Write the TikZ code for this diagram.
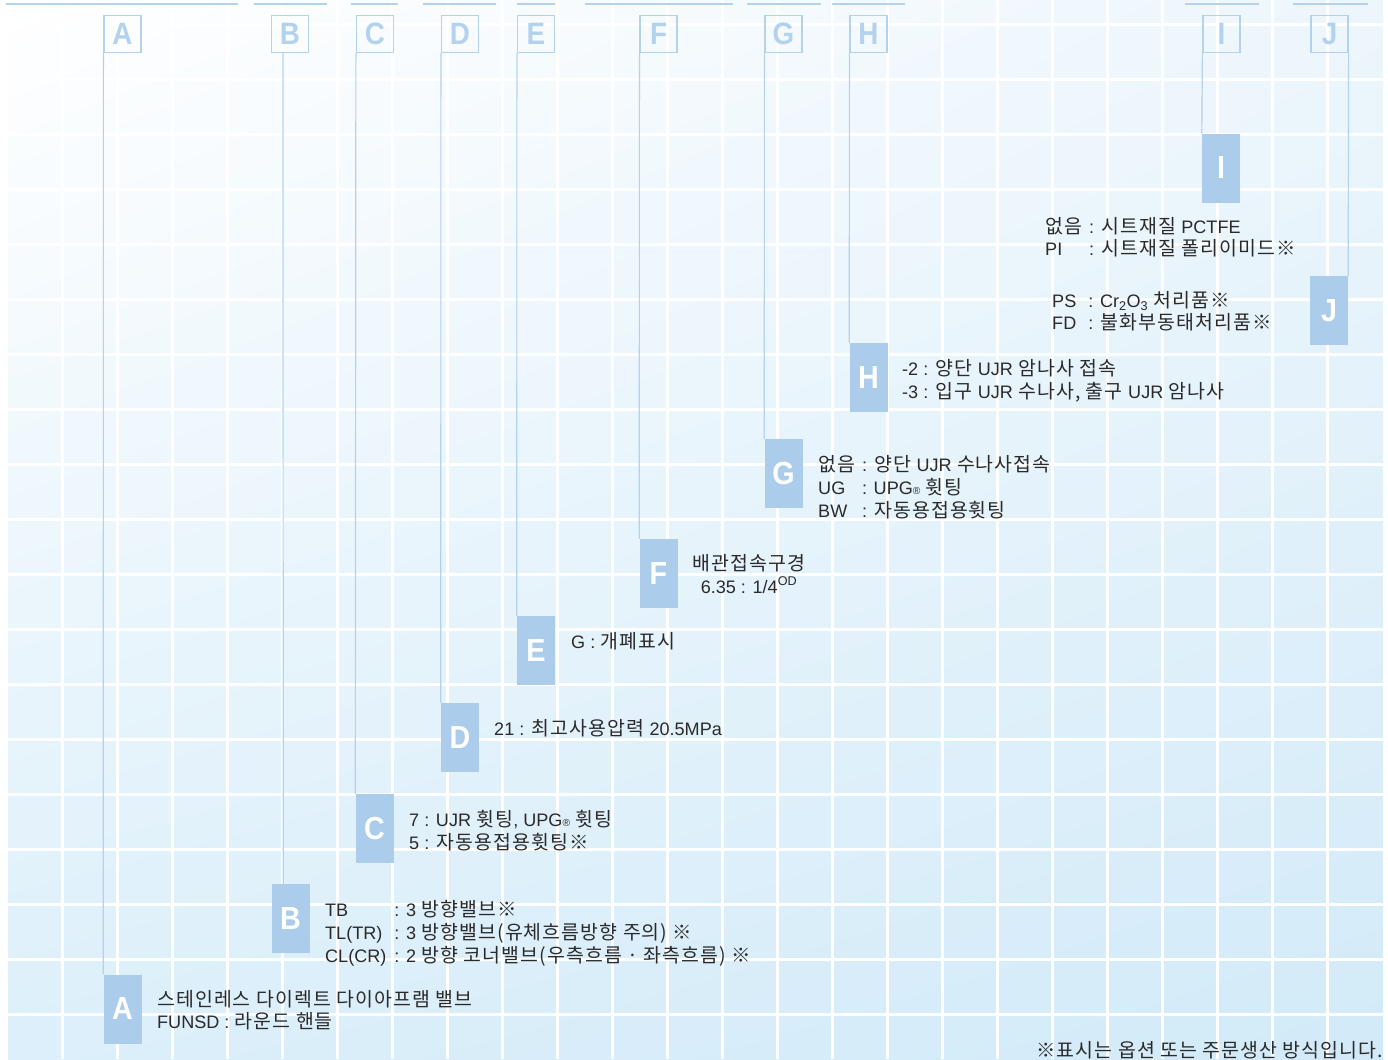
\documentclass[tikz,border=0pt]{standalone}
\usepackage{fontspec}
\usepackage{tikz}
\usetikzlibrary{positioning, shadings}
\newfontfamily\krfont[LetterSpace=5.5]{Noto Sans CJK KR}
\newfontfamily\latinfont[Scale=0.93]{Liberation Sans}
\newfontfamily\letterfont[FakeStretch=0.9]{Liberation Sans}
\newcommand\en[1]{{\latinfont #1}}
\newcommand\regmark{{\latinfont\fontsize{11}{11}\selectfont ®}}
\definecolor{keyblue}{HTML}{ABCDEB}
\definecolor{lineblue}{HTML}{B3D2EE}
\definecolor{textgray}{HTML}{2A2A2A}
\definecolor{paneltr}{HTML}{EDF6FC}
\definecolor{panelbl}{HTML}{DCEFFA}
\definecolor{panelbr}{HTML}{D2EAF8}

\begin{document}
\begin{tikzpicture}[x=1bp, y=-1bp,
    keybox/.style={rectangle, fill=keyblue, minimum width=38bp, minimum height=69bp, inner sep=0pt, text=white, font=\letterfont\bfseries\fontsize{32}{32}\selectfont},
    headbox/.style={rectangle, draw=lineblue, line width=1.2bp, minimum width=37bp, minimum height=37bp, inner sep=0pt, text=lineblue, font=\letterfont\bfseries\fontsize{31}{31}\selectfont},
    desc/.style={anchor=base west, inner sep=0pt, text=textgray, font=\krfont\fontsize{19.5}{23}\selectfont},
    leader/.style={draw=lineblue, line width=1.2bp},
    topline/.style={draw=lineblue, line width=2bp},
    tileline/.style={draw=white, line width=3bp}
]
    \useasboundingbox (0,0) rectangle (1388,1059);

    % Background panel with tile grid
    \shade[upper left=white, upper right=paneltr, lower left=panelbl, lower right=panelbr] (8,0) rectangle (1383,1059);
    \foreach \gx in {62,117,...,1327}
        \draw[tileline] (\gx,0) -- (\gx,1059);
    \foreach \gy in {24,79,...,1014}
        \draw[tileline] (8,\gy) -- (1383,\gy);

    % Header rules
    \draw[topline] (6,4) -- (238,4);
    \draw[topline] (254,4) -- (327,4);
    \draw[topline] (351,4) -- (398,4);
    \draw[topline] (423,4) -- (496,4);
    \draw[topline] (517,4) -- (555,4);
    \draw[topline] (585,4) -- (733,4);
    \draw[topline] (747,4) -- (821,4);
    \draw[topline] (832,4) -- (905,4);
    \draw[topline] (1185,4) -- (1259,4);
    \draw[topline] (1293,4) -- (1368,4);

    % Header letters
    \node[headbox] (headA) at (122.5,34) {A};
    \node[headbox] (headB) at (290,34) {B};
    \node[headbox] (headC) at (375,34) {C};
    \node[headbox] (headD) at (460,34) {D};
    \node[headbox] (headE) at (536,34) {E};
    \node[headbox] (headF) at (658.5,34) {F};
    \node[headbox] (headG) at (783.5,34) {G};
    \node[headbox] (headH) at (868.5,34) {H};
    \node[headbox] (headI) at (1221.5,34) {I};
    \node[headbox] (headJ) at (1329.5,34) {J};

    % Code letters
    \node[keybox] (keyA) at (122.5,1009) {A};
    \node[keybox] (keyB) at (290.5,918.5) {B};
    \node[keybox] (keyC) at (374.5,828.5) {C};
    \node[keybox] (keyD) at (460,737.5) {D};
    \node[keybox] (keyE) at (536,650.5) {E};
    \node[keybox] (keyF) at (658.5,573.5) {F};
    \node[keybox] (keyG) at (783.5,473.5) {G};
    \node[keybox] (keyH) at (868.5,377.5) {H};
    \node[keybox] (keyI) at (1221,168) {I};
    \node[keybox] (keyJ) at (1329,310.5) {J};

    % Leaders
    \draw[leader] (headA.south west) -- (keyA.north west);
    \draw[leader] ([xshift=12bp]headB.south west) -- ([xshift=12bp]keyB.north west);
    \draw[leader] (headC.south west) -- (keyC.north west);
    \draw[leader] (headD.south west) -- (keyD.north west);
    \draw[leader] (headE.south west) -- (keyE.north west);
    \draw[leader] (headF.south west) -- (keyF.north west);
    \draw[leader] (headG.south west) -- (keyG.north west);
    \draw[leader] (headH.south west) -- (keyH.north west);
    \draw[leader] (headI.south west) -- (keyI.north west);
    \draw[leader] (headJ.south east) -- (keyJ.north east);

    % Descriptions
    \node[desc] (descA) at (157,1006) {\begin{tabular}[t]{@{}l@{}}스테인레스 다이렉트 다이아프램 밸브\\ \en{FUNSD :} 라운드 핸들\end{tabular}};
    \node[desc] (descB) at (325,916) {\begin{tabular}[t]{@{}l@{\hspace{8bp}}l@{}}\en{TB} & \en{: 3} 방향밸브※\\ \en{TL(TR)} & \en{: 3} 방향밸브(유체흐름방향 주의) ※\\ \en{CL(CR)} & \en{: 2} 방향 코너밸브(우측흐름 · 좌측흐름) ※\end{tabular}};
    \node[desc] (descC) at (409,826) {\begin{tabular}[t]{@{}l@{}}\en{7 : UJR} 휫팅\en{, UPG}\regmark{} 휫팅\\ \en{5 :} 자동용접용휫팅※\end{tabular}};
    \node[desc] (descD) at (494,735) {\en{21 :} 최고사용압력 \en{20.5MPa}};
    \node[desc] (descE) at (571,648) {\en{G :} 개폐표시};
    \node[desc, anchor=base] (descF) at (749,570) {\begin{tabular}[t]{@{}c@{}}배관접속구경\\ \en{6.35 : 1/4\textsuperscript{OD}}\end{tabular}};
    \node[desc] (descG) at (818,471) {\begin{tabular}[t]{@{}l@{\hspace{7bp}}l@{}}없음 & \en{:} 양단 \en{UJR} 수나사접속\\ \en{UG} & \en{: UPG}\regmark{} 휫팅\\ \en{BW} & \en{:} 자동용접용휫팅\end{tabular}};
    \node[desc] (descH) at (902,375) {\begin{tabular}[t]{@{}l@{}}\en{-2 :} 양단 \en{UJR} 암나사 접속\\ \en{-3 :} 입구 \en{UJR} 수나사, 출구 \en{UJR} 암나사\end{tabular}};
    \node[desc] (descI) at (1045,233) {\begin{tabular}[t]{@{}l@{\hspace{7bp}}l@{}}없음 & \en{:} 시트재질 \en{PCTFE}\\ \en{PI} & \en{:} 시트재질 폴리이미드※\end{tabular}};
    \node[desc] (descJ) at (1052,307) {\begin{tabular}[t]{@{}l@{\hspace{12bp}}l@{}}\en{PS} & \en{: Cr\textsubscript{2}O\textsubscript{3}} 처리품※\\ \en{FD} & \en{:} 불화부동태처리품※\end{tabular}};

    % Footnote
    \node[desc, anchor=base east] (note) at (1383,1057) {※표시는 옵션 또는 주문생산 방식입니다.};
\end{tikzpicture}
\end{document}
